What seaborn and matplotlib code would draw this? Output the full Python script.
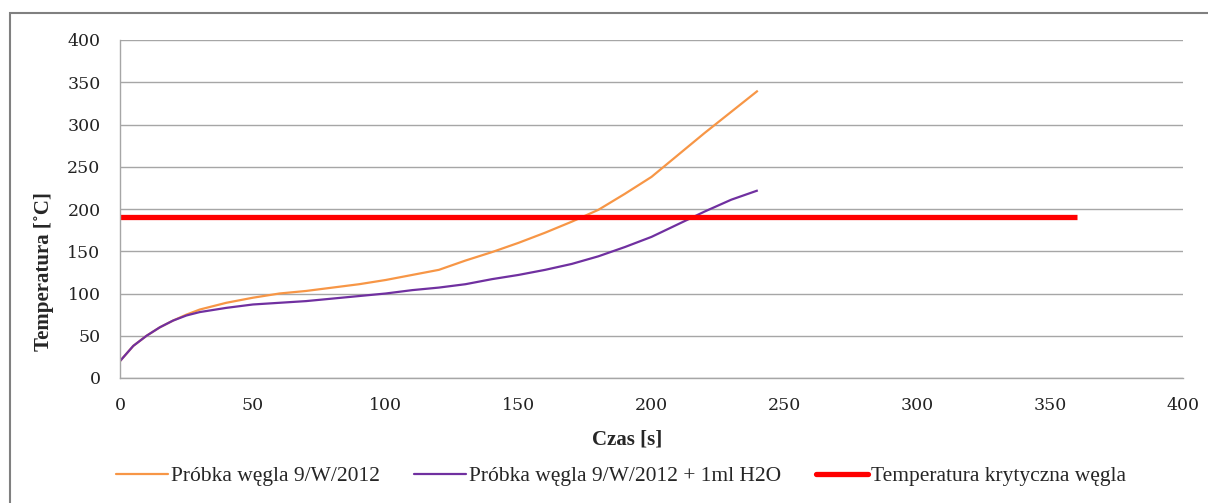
import numpy as np
import pandas as pd
import matplotlib
matplotlib.use('Agg')
import matplotlib.pyplot as plt
import seaborn as sns
from matplotlib.patches import Rectangle

# Data
czas = [0, 5, 10, 15, 20, 25, 30, 40, 50, 60, 70, 80, 90, 100, 110, 120,
        130, 140, 150, 160, 170, 180, 190, 200, 210, 220, 230, 240]
probka = [20, 38, 50, 60, 68, 75, 81, 89, 95, 100, 103, 107, 111, 116, 122, 128,
          139, 149, 160, 172, 185, 199, 218, 238, 264, 290, 315, 340]
probka_h2o = [20, 38, 50, 60, 68, 74, 78, 83, 87, 89, 91, 94, 97, 100, 104, 107,
              111, 117, 122, 128, 135, 144, 155, 167, 182, 197, 211, 222]
krytyczna_x = [0, 360]
krytyczna_y = [190, 190]

labels = ['Próbka węgla 9/W/2012', 'Próbka węgla 9/W/2012 + 1ml H2O',
          'Temperatura krytyczna węgla']
colors = ['#F79646', '#7030A0', '#FF0000']

sns.set_theme(style='white')
plt.rcParams['font.family'] = ['Liberation Serif', 'DejaVu Serif']

df = pd.concat([
    pd.DataFrame({'Czas': czas, 'Temp': probka, 'Seria': labels[0]}),
    pd.DataFrame({'Czas': czas, 'Temp': probka_h2o, 'Seria': labels[1]}),
    pd.DataFrame({'Czas': krytyczna_x, 'Temp': krytyczna_y, 'Seria': labels[2]}),
])

fig = plt.figure(figsize=(12.08, 5.03), dpi=100)
ax = fig.add_axes([120 / 1208, 1 - 378 / 503, 1063 / 1208, 338 / 503])

sns.lineplot(data=df, x='Czas', y='Temp', hue='Seria', palette=colors,
             hue_order=labels, ax=ax, legend=False, sort=False)
widths = [1.6, 1.6, 3.8]
for line, w in zip(ax.get_lines(), widths):
    line.set_linewidth(w)
    line.set_solid_capstyle('butt')

ax.set_xlim(0, 400)
ax.set_ylim(0, 400)
ax.set_xticks(np.arange(0, 401, 50))
ax.set_yticks(np.arange(0, 401, 50))
ax.yaxis.grid(True, color='#A6A6A6', linewidth=1.0)
ax.xaxis.grid(False)
ax.set_axisbelow(True)
for side in ['top', 'right']:
    ax.spines[side].set_visible(False)
for side in ['left', 'bottom']:
    ax.spines[side].set_color('#A6A6A6')
    ax.spines[side].set_linewidth(1.0)
ax.tick_params(axis='both', which='major', direction='out', length=6, width=1,
               color='#A6A6A6', labelsize=12.5, labelcolor='#222222')
ax.tick_params(axis='y', pad=8)
ax.tick_params(axis='x', pad=8)
for lab in ax.get_xticklabels() + ax.get_yticklabels():
    lab.set_family(['DejaVu Serif'])

ax.set_xlabel('Czas [s]', fontsize=15, fontweight='bold')
ax.set_ylabel('Temperatura [˚C]', fontsize=15, fontweight='bold')
ax.xaxis.set_label_coords(0.477, -0.151)
ax.yaxis.set_label_coords(-0.062, 0.314)

# legend at the bottom
handles = [plt.Line2D([], [], color=c, linewidth=w) for c, w in zip(colors, widths)]
fig.legend(handles, labels, loc='center', ncol=3, frameon=False,
           bbox_to_anchor=(621 / 1208, 1 - 476 / 503), fontsize=15.5,
           handlelength=2.4, handletextpad=0.15, columnspacing=1.6)

# chart border like in the spreadsheet
fig.patches.append(Rectangle((10 / 1208, -0.1), 1.2, 1.1 - 13 / 503,
                             transform=fig.transFigure, fill=False,
                             edgecolor='#808080', linewidth=1.5))

fig.savefig('out.png', dpi=100)
